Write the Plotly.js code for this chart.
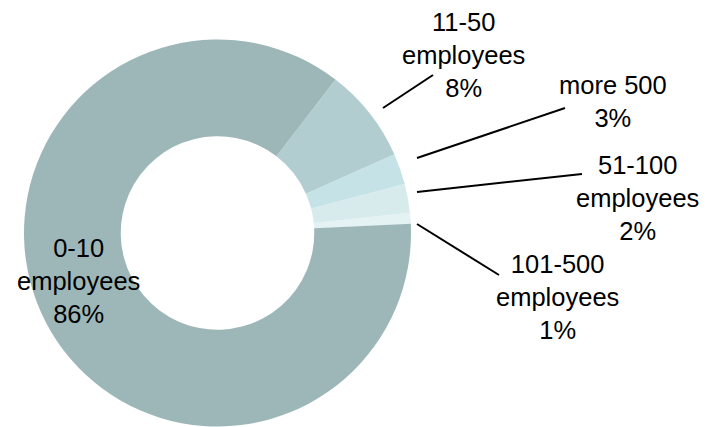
<!DOCTYPE html>
<html>
<head>
<meta charset="utf-8">
<script src="https://cdn.plot.ly/plotly-3.0.1.min.js"></script>
<style>
html,body{margin:0;padding:0;background:#fff;}
#chart{width:708px;height:427px;}
</style>
</head>
<body>
<div id="chart"></div>
<script>
// Data (counterclockwise from ~3 o'clock)
var categories = ["101-500<br>employees", "51-100<br>employees", "more 500", "11-50<br>employees", "0-10<br>employees"];
var shares = [0.9, 2.4, 2.6, 7.9, 86.2];
var sliceColors = ["#E4F2F3", "#D7EBED", "#C5E3E6", "#B1CDD0", "#9DB7B9"];

var W = 708, H = 427;
function px(x){ return x / W; }
function py(y){ return 1 - y / H; }

// Donut geometry (pixels)
var cx = 217.5, cy = 233, R = 193.5;

// Label layout (pixel centres) and leader lines
var labelPos = [
  {x: 557, y: 297, line: [417, 224, 499, 275]},
  {x: 637, y: 198, line: [417, 192, 582, 174]},
  {x: 613, y: 101, line: [417, 158, 565, 108]},
  {x: 464, y: 55,  line: [383, 108, 433, 75]},
  {x: 78,  y: 281, line: null}
];

var total = shares.reduce(function(a, b){ return a + b; }, 0);

var trace = {
  type: "pie",
  labels: categories,
  values: shares,
  sort: false,
  direction: "counterclockwise",
  rotation: 84,
  hole: 0.5,
  textinfo: "none",
  hoverinfo: "label+percent",
  marker: {colors: sliceColors, line: {width: 0}},
  domain: {x: [px(cx - R), px(cx + R)], y: [py(cy + R), py(cy - R)]},
  showlegend: false
};

var annotations = [], shapes = [];
categories.forEach(function(c, i){
  var pct = Math.round(shares[i] / total * 100) + "%";
  var p = labelPos[i];
  annotations.push({
    xref: "paper", yref: "paper",
    x: px(p.x), y: py(p.y),
    xanchor: "center", yanchor: "middle",
    text: c + "<br>" + pct,
    showarrow: false,
    font: {family: "Liberation Sans, Arial, sans-serif", size: 25.5, color: "#000"}
  });
  if (p.line) {
    shapes.push({
      type: "line", xref: "paper", yref: "paper",
      x0: px(p.line[0]), y0: py(p.line[1]), x1: px(p.line[2]), y1: py(p.line[3]),
      line: {color: "#000", width: 2}
    });
  }
});

var layout = {
  width: W, height: H,
  margin: {l: 0, r: 0, t: 0, b: 0, pad: 0},
  paper_bgcolor: "#fff",
  plot_bgcolor: "#fff",
  annotations: annotations,
  shapes: shapes,
  font: {family: "Liberation Sans, Arial, sans-serif", size: 25.5, color: "#000"}
};

Plotly.newPlot("chart", [trace], layout, {displayModeBar: false, staticPlot: true});
</script>
</body>
</html>
